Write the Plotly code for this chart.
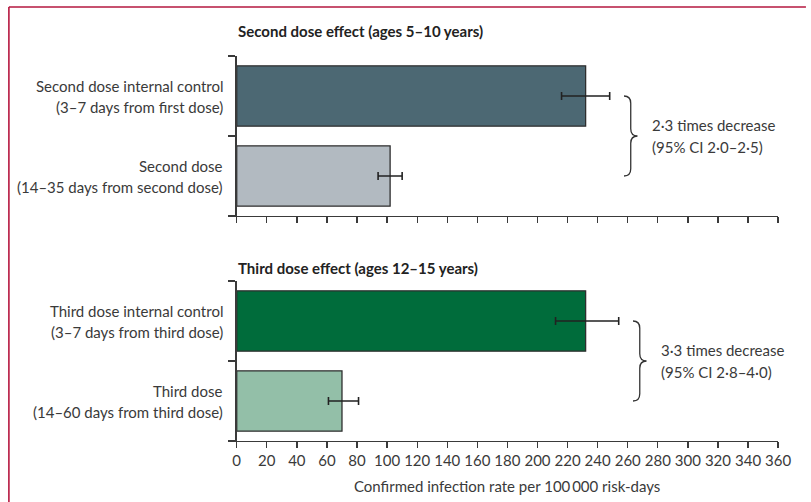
import plotly.graph_objects as go

W, H = 811, 502

# ---------------- data ----------------
panel_titles = ["Second dose effect (ages 5–10 years)",
                "Third dose effect (ages 12–15 years)"]

labels_top = [["Second dose internal control", "(3–7 days from first dose)"],
              ["Second dose", "(14–35 days from second dose)"]]
labels_bot = [["Third dose internal control", "(3–7 days from third dose)"],
              ["Third dose", "(14–60 days from third dose)"]]

rate_top = [232, 102]
ci_lo_top = [216, 94]
ci_hi_top = [248, 110]

rate_bot = [232, 70]
ci_lo_bot = [212, 61]
ci_hi_bot = [254, 81]

colors_top = ["#4c6873", "#b2bac1"]
colors_bot = ["#006c3b", "#93bfa8"]

effect_top = ["2·3 times decrease", "(95% CI 2·0–2·5)"]
effect_bot = ["3·3 times decrease", "(95% CI 2·8–4·0)"]

x_tick_vals = list(range(0, 361, 20))
x_title = "Confirmed infection rate per 100\u2009000 risk-days"

# ---------------- styling helpers ----------------
FONT = "Lato, 'Open Sans', sans-serif"
FS = 15
TXT = "#3a3a3a"
AX = "#3a3a3a"
FRAME = "#b5173f"


def px(x):
    return x / W


def py(y):
    return 1 - y / H


xdom = [px(237.7), px(790.7)]
ydom_top = [py(216), py(56)]
ydom_bot = [py(441), py(281)]

fig = go.Figure()

panels = [
    (rate_top, ci_lo_top, ci_hi_top, colors_top, labels_top, effect_top, "x", "y"),
    (rate_bot, ci_lo_bot, ci_hi_bot, colors_bot, labels_bot, effect_bot, "x2", "y2"),
]

annotations = []
shapes = []

for k, (rate, lo, hi, cols, labs, eff, xa, ya) in enumerate(panels):
    ypos = list(range(len(rate)))
    fig.add_trace(go.Bar(
        x=rate, y=ypos, orientation="h", width=0.755,
        marker=dict(color=cols, line=dict(color="#2e2e2e", width=1.3)),
        error_x=dict(type="data", symmetric=False,
                     array=[h - r for h, r in zip(hi, rate)],
                     arrayminus=[r - l for r, l in zip(rate, lo)],
                     color="#222222", thickness=1.6, width=4),
        xaxis=xa, yaxis=ya, showlegend=False, hoverinfo="skip",
    ))
    # category labels (two lines each)
    for i, (l1, l2) in enumerate(labs):
        annotations.append(dict(text=l1, xref="paper", x=px(226), xanchor="right",
                                yref=ya, y=i, yanchor="middle", yshift=10.5,
                                showarrow=False, font=dict(size=FS, color=TXT, family=FONT)))
        annotations.append(dict(text=l2, xref="paper", x=px(226), xanchor="right",
                                yref=ya, y=i, yanchor="middle", yshift=-10.5,
                                showarrow=False, font=dict(size=FS, color=TXT, family=FONT)))
    # brace from bar centre to bar centre
    x0 = max(hi) + 9.5
    xm = x0 + 4.5
    xt = x0 + 9.0
    y0, y1 = 0, len(rate) - 1
    ym = (y0 + y1) / 2
    r = 0.09
    path = (f"M {x0},{y0} Q {xm},{y0} {xm},{y0 + r} L {xm},{ym - r} "
            f"Q {xm},{ym} {xt},{ym} Q {xm},{ym} {xm},{ym + r} "
            f"L {xm},{y1 - r} Q {xm},{y1} {x0},{y1}")
    shapes.append(dict(type="path", path=path, xref=xa, yref=ya,
                       line=dict(color="#333333", width=1.3)))
    annotations.append(dict(text=eff[0], xref=xa, x=xt + 8, xanchor="left",
                            yref=ya, y=ym, yanchor="middle", yshift=11,
                            showarrow=False, font=dict(size=FS, color=TXT, family=FONT)))
    annotations.append(dict(text=eff[1], xref=xa, x=xt + 8, xanchor="left",
                            yref=ya, y=ym, yanchor="middle", yshift=-11,
                            showarrow=False, font=dict(size=FS, color=TXT, family=FONT)))

# panel titles
annotations.append(dict(text="<b>" + panel_titles[0] + "</b>", xref="paper", x=px(237),
                        xanchor="left", yref="paper", y=py(31.5), yanchor="middle",
                        showarrow=False, font=dict(size=FS, color="#222222", family=FONT)))
annotations.append(dict(text="<b>" + panel_titles[1] + "</b>", xref="paper", x=px(237),
                        xanchor="left", yref="paper", y=py(268), yanchor="middle",
                        showarrow=False, font=dict(size=FS, color="#222222", family=FONT)))
# x-axis title
annotations.append(dict(text=x_title, xref="paper", x=(xdom[0] + xdom[1]) / 2,
                        xanchor="center", yref="paper", y=py(486), yanchor="middle",
                        showarrow=False, font=dict(size=FS, color=TXT, family=FONT)))

# frame (top and left edges visible)
shapes.append(dict(type="line", xref="paper", yref="paper", x0=px(5), y0=py(7), x1=1.01, y1=py(7),
                   line=dict(color=FRAME, width=1.6)))
shapes.append(dict(type="line", xref="paper", yref="paper", x0=px(5), y0=py(7), x1=px(5), y1=-0.01,
                   line=dict(color=FRAME, width=1.6)))

xaxis_common = dict(range=[0, 360], domain=xdom, tickvals=x_tick_vals, ticks="outside",
                    ticklen=6, tickwidth=1.3, tickcolor=AX, showline=True, linecolor=AX,
                    linewidth=1.3, showgrid=False, zeroline=False, fixedrange=True)
yaxis_common = dict(range=[1.5, -0.5], tickvals=[-0.5, 0.5, 1.5], showticklabels=False,
                    ticks="outside", ticklen=7, tickwidth=1.3, tickcolor=AX, showline=True,
                    linecolor=AX, linewidth=1.3, showgrid=False, zeroline=False, fixedrange=True)

fig.update_layout(
    width=W, height=H,
    margin=dict(l=0, r=0, t=0, b=0),
    paper_bgcolor="white", plot_bgcolor="white",
    font=dict(family=FONT, color=TXT, size=FS),
    xaxis=dict(**xaxis_common, anchor="y", showticklabels=False),
    yaxis=dict(**yaxis_common, domain=ydom_top, anchor="x"),
    xaxis2=dict(**xaxis_common, anchor="y2", showticklabels=True,
                tickfont=dict(size=FS, color=TXT, family=FONT)),
    yaxis2=dict(**yaxis_common, domain=ydom_bot, anchor="x2"),
    annotations=annotations,
    shapes=shapes,
    bargap=0,
)

fig.write_html("out.html",
               config={"displayModeBar": False, "staticPlot": True},
               post_script="document.body.style.margin='0';document.body.style.overflow='hidden';")
